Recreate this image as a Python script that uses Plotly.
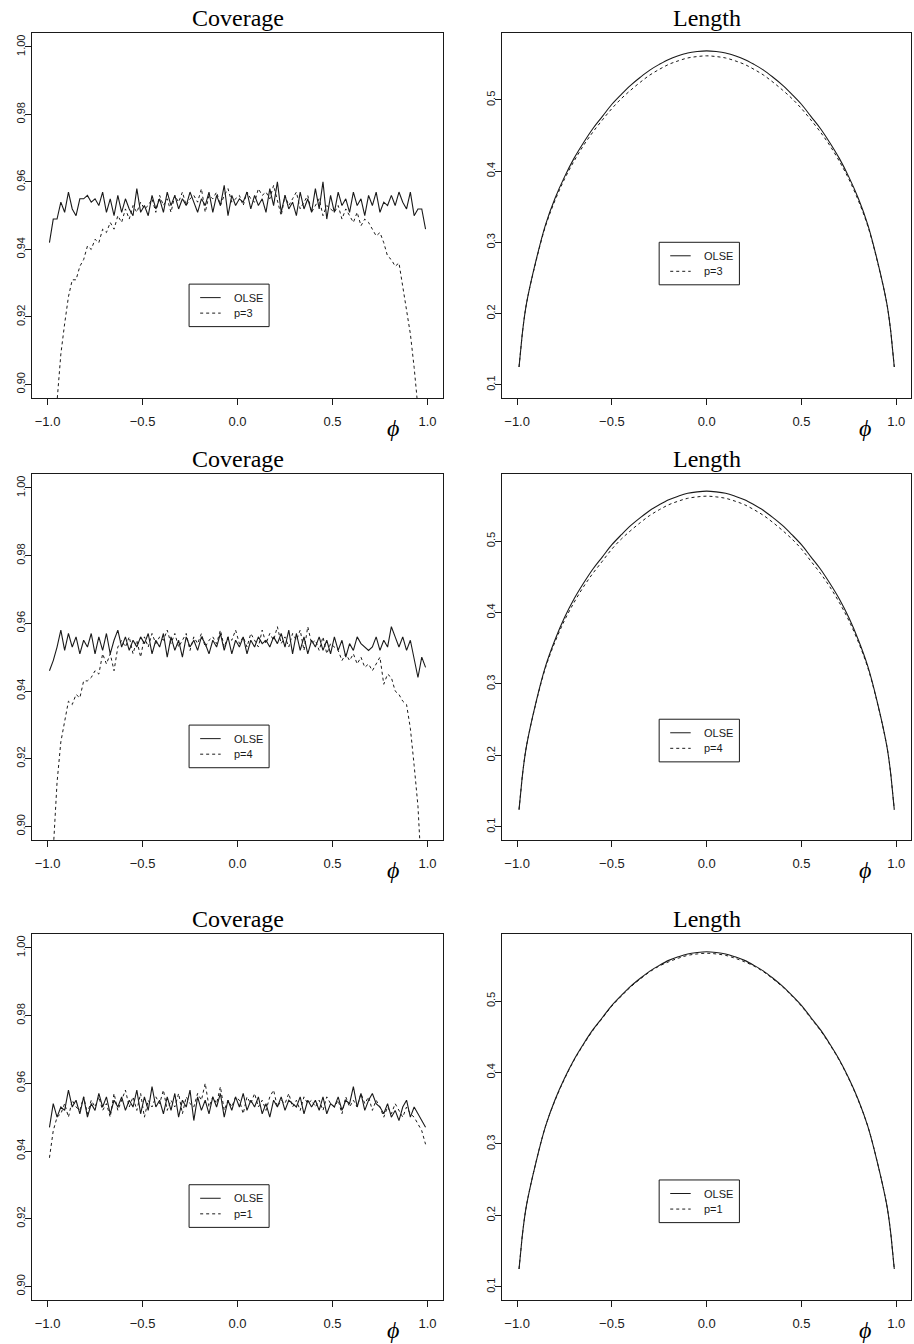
import plotly.graph_objects as go

# ---------------- data ----------------
cov_phi = [round(-0.99 + 0.02 * i, 2) for i in range(100)]

cov_olse_p3 = [
    0.942, 0.949, 0.949, 0.954, 0.951, 0.957, 0.952, 0.950, 0.955, 0.955,
    0.956, 0.954, 0.955, 0.953, 0.957, 0.951, 0.955, 0.950, 0.956, 0.951,
    0.955, 0.952, 0.950, 0.958, 0.951, 0.953, 0.950, 0.956, 0.952, 0.955,
    0.951, 0.957, 0.953, 0.956, 0.952, 0.955, 0.953, 0.957, 0.954, 0.951,
    0.955, 0.953, 0.957, 0.951, 0.956, 0.953, 0.959, 0.950, 0.956, 0.953,
    0.955, 0.954, 0.957, 0.952, 0.956, 0.953, 0.955, 0.951, 0.958, 0.953,
    0.960, 0.951, 0.956, 0.952, 0.954, 0.950, 0.957, 0.952, 0.955, 0.951,
    0.958, 0.952, 0.960, 0.949, 0.956, 0.951, 0.957, 0.953, 0.955, 0.951,
    0.957, 0.953, 0.955, 0.950, 0.956, 0.953, 0.957, 0.951, 0.954, 0.953,
    0.956, 0.953, 0.957, 0.954, 0.952, 0.957, 0.950, 0.952, 0.952, 0.946,
]
cov_p3 = [
    0.800, 0.870, 0.895, 0.909, 0.918, 0.926, 0.931, 0.931, 0.935, 0.937,
    0.941, 0.940, 0.943, 0.942, 0.946, 0.945, 0.948, 0.946, 0.950, 0.948,
    0.952, 0.949, 0.953, 0.951, 0.954, 0.952, 0.953, 0.955, 0.951, 0.956,
    0.953, 0.955, 0.951, 0.956, 0.954, 0.957, 0.953, 0.955, 0.956, 0.954,
    0.958, 0.951, 0.956, 0.955, 0.957, 0.953, 0.956, 0.958, 0.954, 0.955,
    0.956, 0.953, 0.957, 0.955, 0.954, 0.958, 0.956, 0.957, 0.955, 0.959,
    0.954, 0.950, 0.956, 0.953, 0.955, 0.957, 0.952, 0.954, 0.956, 0.951,
    0.953, 0.955, 0.950, 0.953, 0.952, 0.951, 0.953, 0.949, 0.952, 0.950,
    0.948, 0.951, 0.947, 0.949, 0.948, 0.946, 0.944, 0.945, 0.942, 0.938,
    0.937, 0.935, 0.936, 0.929, 0.922, 0.915, 0.905, 0.893, 0.870, 0.820,
]
cov_olse_p4 = [
    0.946, 0.949, 0.953, 0.958, 0.952, 0.957, 0.953, 0.956, 0.951, 0.955,
    0.953, 0.957, 0.951, 0.956, 0.952, 0.957, 0.951, 0.955, 0.958, 0.953,
    0.956, 0.952, 0.955, 0.953, 0.956, 0.954, 0.957, 0.951, 0.955, 0.953,
    0.957, 0.950, 0.956, 0.952, 0.955, 0.950, 0.956, 0.953, 0.955, 0.952,
    0.956, 0.954, 0.951, 0.955, 0.953, 0.957, 0.952, 0.956, 0.951, 0.955,
    0.953, 0.956, 0.951, 0.955, 0.953, 0.956, 0.954, 0.955, 0.953, 0.956,
    0.954, 0.957, 0.953, 0.958, 0.951, 0.957, 0.952, 0.956, 0.951, 0.955,
    0.953, 0.956, 0.952, 0.955, 0.951, 0.956, 0.952, 0.955, 0.950, 0.954,
    0.952, 0.956, 0.954, 0.953, 0.952, 0.953, 0.956, 0.952, 0.955, 0.953,
    0.959, 0.956, 0.953, 0.956, 0.952, 0.955, 0.950, 0.944, 0.950, 0.947,
]
cov_p4 = [
    0.850, 0.893, 0.913, 0.925, 0.931, 0.937, 0.936, 0.939, 0.938, 0.943,
    0.943, 0.944, 0.946, 0.945, 0.951, 0.948, 0.951, 0.946, 0.953, 0.955,
    0.953, 0.956, 0.951, 0.955, 0.950, 0.956, 0.953, 0.957, 0.954, 0.956,
    0.955, 0.958, 0.954, 0.957, 0.953, 0.955, 0.957, 0.952, 0.956, 0.954,
    0.957, 0.953, 0.955, 0.956, 0.954, 0.958, 0.953, 0.956, 0.955, 0.958,
    0.954, 0.956, 0.953, 0.957, 0.955, 0.953, 0.958, 0.954, 0.957, 0.955,
    0.959, 0.954, 0.956, 0.953, 0.957, 0.955, 0.958, 0.952, 0.959, 0.954,
    0.955, 0.952, 0.956, 0.951, 0.954, 0.953, 0.952, 0.949, 0.951, 0.949,
    0.951, 0.948, 0.950, 0.947, 0.948, 0.946, 0.948, 0.950, 0.942, 0.945,
    0.944, 0.940, 0.939, 0.937, 0.936, 0.929, 0.918, 0.906, 0.885, 0.840,
]
cov_olse_p1 = [
    0.947, 0.954, 0.950, 0.953, 0.952, 0.958, 0.953, 0.955, 0.951, 0.956,
    0.950, 0.954, 0.952, 0.957, 0.953, 0.956, 0.951, 0.955, 0.953, 0.956,
    0.952, 0.955, 0.953, 0.958, 0.951, 0.956, 0.952, 0.959, 0.953, 0.955,
    0.951, 0.956, 0.952, 0.957, 0.950, 0.955, 0.953, 0.958, 0.949, 0.956,
    0.952, 0.955, 0.951, 0.956, 0.953, 0.957, 0.950, 0.955, 0.952, 0.956,
    0.953, 0.957, 0.952, 0.955, 0.953, 0.956, 0.951, 0.954, 0.950, 0.955,
    0.953, 0.956, 0.952, 0.955, 0.954, 0.953, 0.956, 0.951, 0.955, 0.953,
    0.955, 0.952, 0.956, 0.951, 0.954, 0.953, 0.956, 0.952, 0.955, 0.954,
    0.959, 0.953, 0.957, 0.952, 0.955, 0.957, 0.954, 0.953, 0.951, 0.954,
    0.950, 0.952, 0.949, 0.953, 0.955, 0.950, 0.953, 0.951, 0.949, 0.947,
]
cov_p1 = [
    0.938, 0.946, 0.950, 0.951, 0.954, 0.950, 0.955, 0.953, 0.952, 0.956,
    0.951, 0.955, 0.953, 0.956, 0.952, 0.954, 0.950, 0.957, 0.952, 0.955,
    0.958, 0.953, 0.956, 0.952, 0.957, 0.950, 0.955, 0.953, 0.956, 0.954,
    0.958, 0.952, 0.955, 0.953, 0.957, 0.951, 0.956, 0.954, 0.953, 0.957,
    0.955, 0.960, 0.953, 0.956, 0.954, 0.959, 0.952, 0.955, 0.953, 0.956,
    0.955, 0.951, 0.956, 0.954, 0.957, 0.953, 0.955, 0.952, 0.956, 0.958,
    0.953, 0.955, 0.954, 0.957, 0.953, 0.955, 0.952, 0.956, 0.954, 0.955,
    0.953, 0.955, 0.952, 0.956, 0.954, 0.953, 0.955, 0.951, 0.956, 0.953,
    0.955, 0.953, 0.957, 0.954, 0.956, 0.952, 0.955, 0.953, 0.950, 0.953,
    0.951, 0.954, 0.952, 0.950, 0.953, 0.951, 0.950, 0.948, 0.946, 0.942,
]

len_phi = [-0.99, -0.98, -0.97, -0.95, -0.90, -0.85, -0.80, -0.75, -0.70, -0.65,
           -0.60, -0.55, -0.50, -0.45, -0.40, -0.35, -0.30, -0.25, -0.20, -0.15,
           -0.10, -0.05, 0.00, 0.05, 0.10, 0.15, 0.20, 0.25, 0.30, 0.35,
           0.40, 0.45, 0.50, 0.55, 0.60, 0.65, 0.70, 0.75, 0.80, 0.85,
           0.90, 0.95, 0.97, 0.98, 0.99]

len_olse_p3 = [0.125, 0.152, 0.178, 0.215, 0.275, 0.325, 0.362, 0.392, 0.418, 0.440,
               0.460, 0.477, 0.494, 0.508, 0.521, 0.532, 0.542, 0.550, 0.557, 0.562,
               0.566, 0.568, 0.569, 0.568, 0.566, 0.562, 0.557, 0.550, 0.542, 0.532,
               0.521, 0.508, 0.494, 0.477, 0.460, 0.440, 0.418, 0.392, 0.362, 0.325,
               0.275, 0.215, 0.178, 0.152, 0.125]
len_p3 = [0.125, 0.152, 0.178, 0.215, 0.274, 0.323, 0.359, 0.389, 0.414, 0.436,
          0.455, 0.472, 0.488, 0.502, 0.514, 0.525, 0.535, 0.543, 0.550, 0.555,
          0.559, 0.561, 0.562, 0.561, 0.559, 0.555, 0.550, 0.543, 0.535, 0.525,
          0.514, 0.502, 0.488, 0.472, 0.455, 0.436, 0.414, 0.389, 0.359, 0.323,
          0.274, 0.215, 0.178, 0.152, 0.125]
len_olse_p4 = [0.124, 0.151, 0.177, 0.214, 0.275, 0.325, 0.362, 0.393, 0.419, 0.441,
               0.461, 0.478, 0.495, 0.509, 0.522, 0.533, 0.543, 0.551, 0.558, 0.563,
               0.567, 0.569, 0.570, 0.569, 0.567, 0.563, 0.558, 0.551, 0.543, 0.533,
               0.522, 0.509, 0.495, 0.478, 0.461, 0.441, 0.419, 0.393, 0.362, 0.325,
               0.275, 0.214, 0.177, 0.151, 0.124]
len_p4 = [0.124, 0.151, 0.177, 0.214, 0.274, 0.323, 0.359, 0.389, 0.414, 0.436,
          0.455, 0.472, 0.489, 0.503, 0.515, 0.526, 0.536, 0.544, 0.551, 0.556,
          0.560, 0.562, 0.563, 0.562, 0.560, 0.556, 0.551, 0.544, 0.536, 0.526,
          0.515, 0.503, 0.489, 0.472, 0.455, 0.436, 0.414, 0.389, 0.359, 0.323,
          0.274, 0.214, 0.177, 0.151, 0.124]
len_olse_p1 = [0.125, 0.152, 0.178, 0.215, 0.275, 0.325, 0.362, 0.392, 0.418, 0.440,
               0.460, 0.477, 0.494, 0.508, 0.521, 0.532, 0.542, 0.550, 0.557, 0.562,
               0.566, 0.568, 0.569, 0.568, 0.566, 0.562, 0.557, 0.550, 0.542, 0.532,
               0.521, 0.508, 0.494, 0.477, 0.460, 0.440, 0.418, 0.392, 0.362, 0.325,
               0.275, 0.215, 0.178, 0.152, 0.125]
len_p1 = [0.125, 0.152, 0.178, 0.215, 0.275, 0.325, 0.361, 0.391, 0.417, 0.439,
          0.459, 0.476, 0.493, 0.507, 0.520, 0.531, 0.541, 0.549, 0.555, 0.560,
          0.564, 0.566, 0.567, 0.566, 0.564, 0.560, 0.555, 0.549, 0.541, 0.531,
          0.520, 0.507, 0.493, 0.476, 0.459, 0.439, 0.417, 0.391, 0.361, 0.325,
          0.275, 0.215, 0.178, 0.152, 0.125]

p_labels = ["p=3", "p=4", "p=1"]
panel_titles = ["Coverage", "Length"]
x_ticks = [-1.0, -0.5, 0.0, 0.5, 1.0]
cov_ticks = [0.90, 0.92, 0.94, 0.96, 0.98, 1.00]
len_ticks = [0.1, 0.2, 0.3, 0.4, 0.5]

# ---------------- layout geometry ----------------
W, H = 914, 1344
X_DOM = [[0.0354, 0.4843], [0.5492, 0.9971]]
Y_DOM = [[0.7039, 0.9754], [0.3750, 0.6473], [0.0327, 0.3051]]
COV_RANGE = [0.896, 1.0041]
LEN_RANGE = [0.0815, 0.594]
X_RANGE = [-1.08, 1.08]

SANS = "Liberation Sans, Arial, Helvetica, sans-serif"
SERIF = "Liberation Serif, Times New Roman, Times, serif"
INK = "#1a1a1a"

cov_data = [(cov_olse_p3, cov_p3), (cov_olse_p4, cov_p4), (cov_olse_p1, cov_p1)]
len_data = [(len_olse_p3, len_p3), (len_olse_p4, len_p4), (len_olse_p1, len_p1)]

fig = go.Figure()
layout = dict(
    width=W, height=H,
    margin=dict(l=0, r=0, t=0, b=0),
    paper_bgcolor="white", plot_bgcolor="white",
    showlegend=False,
)
shapes = []
annotations = []

# legend box top (axis-domain coords) per panel
leg_top = {(0, 0): 0.312, (1, 0): 0.314, (2, 0): 0.315,
           (0, 1): 0.4266, (1, 1): 0.330, (2, 1): 0.328}

k = 0
for r in range(3):
    for c in range(2):
        k += 1
        xa = "x" if k == 1 else f"x{k}"
        ya = "y" if k == 1 else f"y{k}"
        xkey = "xaxis" if k == 1 else f"xaxis{k}"
        ykey = "yaxis" if k == 1 else f"yaxis{k}"
        if c == 0:
            olse, other = cov_data[r]
            xs = cov_phi
            yrange, yticks, yfmt = COV_RANGE, cov_ticks, "%.2f"
        else:
            olse, other = len_data[r]
            xs = len_phi
            yrange, yticks, yfmt = LEN_RANGE, len_ticks, "%.1f"
        shape = "linear" if c == 0 else "spline"
        fig.add_trace(go.Scatter(x=xs, y=olse, mode="lines", xaxis=xa, yaxis=ya,
                                 line=dict(color=INK, width=1.1, shape=shape),
                                 name="OLSE"))
        fig.add_trace(go.Scatter(x=xs, y=other, mode="lines", xaxis=xa, yaxis=ya,
                                 line=dict(color=INK, width=1.0, dash="3px,3px", shape=shape),
                                 name=p_labels[r]))
        layout[xkey] = dict(
            domain=X_DOM[c], anchor=ya, range=X_RANGE, showgrid=False, zeroline=False,
            showline=True, mirror=True, linecolor=INK, linewidth=1,
            ticks="outside", ticklen=6, tickcolor=INK, tickwidth=1,
            tickvals=x_ticks, ticktext=[("−" if v < 0 else "") + "%.1f" % abs(v) for v in x_ticks],
            tickfont=dict(family=SANS, size=13, color=INK), ticklabelstandoff=5,
        )
        layout[ykey] = dict(
            domain=Y_DOM[r], anchor=xa, range=yrange, showgrid=False, zeroline=False,
            showline=True, mirror=True, linecolor=INK, linewidth=1,
            ticks="outside", ticklen=6, tickcolor=INK, tickwidth=1,
            tickvals=yticks, ticktext=[yfmt % v for v in yticks], tickangle=-90,
            tickfont=dict(family=SANS, size=11, color=INK), ticklabelstandoff=-4,
        )
        dx = f"{xa} domain"
        dy = f"{ya} domain"
        # panel title
        annotations.append(dict(text=panel_titles[c], xref=dx, yref=dy, x=0.5, y=1.04,
                                xanchor="center", yanchor="middle", showarrow=False,
                                font=dict(family=SERIF, size=24, color="black")))
        # phi axis label
        annotations.append(dict(text="<i>ϕ</i>", xref=dx, yref=dy,
                                x=0.879 if c == 0 else 0.887, y=-0.082,
                                xanchor="center", yanchor="middle", showarrow=False,
                                font=dict(family=SERIF, size=24, color="black")))
        # legend
        top = leg_top[(r, c)]
        lx0 = 0.382 if c == 0 else 0.384
        lx1 = 0.577 if c == 0 else 0.580
        hgt = 0.1165
        shapes.append(dict(type="rect", xref=dx, yref=dy, x0=lx0, x1=lx1,
                           y0=top - hgt, y1=top, line=dict(color=INK, width=1),
                           fillcolor="white", layer="above"))
        s_x0 = lx0 + 0.027
        s_x1 = lx0 + 0.077
        y_solid = top - 0.037
        y_dash = top - 0.0795
        shapes.append(dict(type="line", xref=dx, yref=dy, x0=s_x0, x1=s_x1,
                           y0=y_solid, y1=y_solid, line=dict(color=INK, width=1)))
        shapes.append(dict(type="line", xref=dx, yref=dy, x0=s_x0, x1=s_x1,
                           y0=y_dash, y1=y_dash, line=dict(color=INK, width=1, dash="3px,3px")))
        for txt, yy in (("OLSE", y_solid), (p_labels[r], y_dash)):
            annotations.append(dict(text=txt, xref=dx, yref=dy, x=lx0 + 0.105, y=yy,
                                    xanchor="left", yanchor="middle", showarrow=False,
                                    font=dict(family=SANS, size=11, color=INK)))

layout["shapes"] = shapes
layout["annotations"] = annotations
fig.update_layout(**layout)
fig.write_html("out.html", config={"displayModeBar": False},
               post_script="document.body.style.margin='0';")
